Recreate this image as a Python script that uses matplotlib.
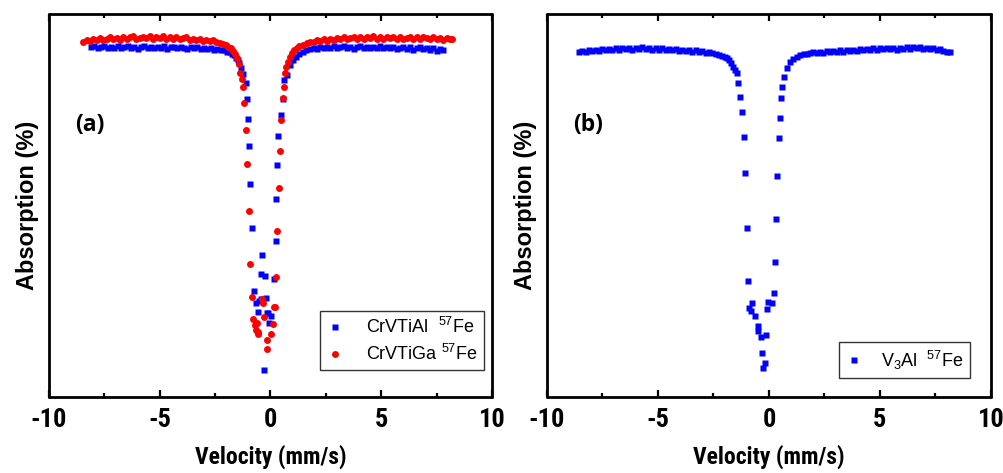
import numpy as np
import matplotlib
matplotlib.use('Agg')
from matplotlib import pyplot as plt
from matplotlib import font_manager
from matplotlib.ticker import MultipleLocator

plt.rcParams['axes.unicode_minus'] = False
plt.rcParams['mathtext.default'] = 'regular'

# ---- data (velocity in mm/s, relative transmission in %) ----
# panel (a): CrVTiAl 57Fe
crvtial_v = [-8.10, -7.95, -7.80, -7.65, -7.50, -7.35, -7.20, -7.05, -6.90, -6.75,
             -6.60, -6.45, -6.30, -6.15, -6.00, -5.85, -5.70, -5.55, -5.40, -5.25,
             -5.10, -4.95, -4.80, -4.65, -4.50, -4.35, -4.20, -4.05, -3.90, -3.75,
             -3.60, -3.45, -3.30, -3.15, -3.00, -2.85, -2.70, -2.55, -2.40, -2.25,
             -2.10, -1.95, -1.85, -1.75, -1.65, -1.55, -1.47, -1.40, -1.32,
             -1.23, -1.12, -1.075, -1.03, -0.98, -0.91, -0.85, -0.73, -0.65, -0.58,
             -0.53, -0.44, -0.41, -0.37, -0.29, -0.25, -0.22, -0.14, -0.10, -0.07,
             0.01, 0.14, 0.23, 0.26, 0.31, 0.35, 0.46, 0.55, 0.61, 0.73, 0.88, 1.02,
             1.15, 1.30, 1.47, 1.62, 1.78, 1.95, 2.10, 2.25, 2.40, 2.55,
             2.70, 2.85, 3.00, 3.15, 3.30, 3.45, 3.60, 3.75, 3.90, 4.05,
             4.20, 4.35, 4.50, 4.65, 4.80, 4.95, 5.10, 5.25, 5.40, 5.55,
             5.70, 5.85, 6.00, 6.15, 6.30, 6.45, 6.60, 6.75, 6.90, 7.05,
             7.20, 7.35, 7.50, 7.65, 7.80]
crvtial_y = [91.3, 91.6, 91.0, 91.4, 91.7, 91.1, 91.5, 91.2, 91.6, 91.0,
             91.4, 91.7, 91.2, 91.5, 90.9, 91.3, 91.6, 91.1, 91.4, 91.0,
             91.5, 91.2, 91.6, 90.9, 91.3, 91.5, 91.0, 91.4, 91.2, 90.8,
             91.3, 91.0, 91.4, 90.9, 91.2, 90.8, 91.1, 90.7, 90.9, 90.5,
             90.6, 90.2, 90.0, 89.6, 89.2, 88.6, 88.0, 87.2, 86.0,
             84.3, 81.9, 77.8, 72.6, 65.5, 55.6, 44.2, 27.8, 24.5, 22.3,
             25.0, 25.5, 32.0, 37.0, 7.0, 31.6, 25.8, 22.0, 22.0, 19.4,
             21.2, 30.7, 40.7, 51.8, 60.6, 68.2, 73.6, 77.9, 82.8, 84.1, 86.7, 88.0,
             88.9, 89.6, 90.2, 90.5, 90.9, 91.2, 90.9, 91.4, 91.1, 91.5,
             91.2, 91.6, 91.0, 91.4, 91.7, 91.2, 91.5, 90.9, 91.3, 91.6,
             91.1, 91.4, 91.0, 91.5, 91.2, 91.6, 91.0, 91.3, 91.1, 91.5,
             90.8, 91.2, 91.4, 90.9, 91.3, 90.7, 91.1, 91.4, 90.8, 91.2,
             90.5, 91.0, 90.4, 90.9, 90.6]

# panel (a): CrVTiGa 57Fe
crvtiga_v = [-8.45, -8.30, -8.15, -8.00, -7.85, -7.70, -7.55, -7.40, -7.25, -7.10,
             -6.95, -6.80, -6.65, -6.50, -6.35, -6.20, -6.05, -5.90, -5.75, -5.60,
             -5.45, -5.30, -5.15, -5.00, -4.85, -4.70, -4.55, -4.40, -4.25, -4.10,
             -3.95, -3.80, -3.65, -3.50, -3.35, -3.20, -3.05, -2.90, -2.75, -2.60,
             -2.45, -2.30, -2.15, -2.00, -1.90, -1.80, -1.70, -1.60, -1.50, -1.44,
             -1.38, -1.30,
             -1.24, -1.18, -1.11, -1.05, -0.98, -0.91, -0.85, -0.78, -0.70, -0.65,
             -0.61, -0.58, -0.55, -0.40, -0.36, -0.30, -0.17, -0.14, 0.01, 0.10,
             0.17, 0.20, 0.23, 0.29, 0.38, 0.43, 0.49, 0.55, 0.60, 0.65,
             0.72, 0.80, 0.88, 0.97, 1.06, 1.18, 1.30, 1.45, 1.63, 1.80,
             1.95, 2.10, 2.25, 2.40, 2.55, 2.70, 2.85, 3.00, 3.15, 3.30,
             3.45, 3.60, 3.75, 3.90, 4.05, 4.20, 4.35, 4.50, 4.65, 4.80,
             4.95, 5.10, 5.25, 5.40, 5.55, 5.70, 5.85, 6.00, 6.15, 6.30,
             6.45, 6.60, 6.75, 6.90, 7.05, 7.20, 7.35, 7.50, 7.65, 7.80,
             7.95, 8.10, 8.20]
crvtiga_y = [92.8, 93.3, 93.0, 93.6, 93.1, 93.8, 93.3, 93.6, 94.0, 93.4,
             93.8, 93.2, 94.0, 93.6, 93.9, 94.2, 93.5, 93.8, 94.1, 93.7,
             94.3, 93.6, 94.0, 93.8, 94.2, 93.5, 93.9, 93.6, 94.0, 93.4,
             93.7, 93.9, 93.3, 93.6, 93.2, 93.5, 93.0, 93.3, 92.9, 93.1,
             92.7, 92.5, 92.2, 91.9, 91.5, 91.0, 90.3, 89.6, 88.6, 86.9,
             84.7, 82.9,
             81.0, 76.7, 69.7, 60.8, 48.6, 34.7, 26.2, 20.3, 18.8, 17.5,
             19.3, 16.4, 17.0, 25.6, 24.6, 21.0, 14.9, 12.5, 16.4, 19.1,
             23.4, 23.6, 31.2, 43.4, 54.6, 64.2, 72.3, 78.0, 81.0, 84.5,
             86.1, 87.5, 88.9, 89.8, 90.5, 91.1, 91.6, 92.0, 92.4, 92.8,
             92.6, 93.1, 92.9, 93.4, 93.0, 93.5, 93.2, 93.7, 93.4, 93.9,
             93.5, 93.8, 94.1, 93.6, 93.9, 93.5, 94.0, 93.7, 94.2, 93.6,
             93.9, 93.5, 94.1, 93.7, 93.9, 93.4, 94.0, 93.6, 93.8, 94.1,
             93.5, 93.9, 93.6, 94.0, 93.7, 93.4, 93.9, 93.5, 93.8, 93.3,
             93.7, 93.4, 93.6]

# panel (b): V3Al 57Fe
v3al_v = [-8.55, -8.40, -8.25, -8.10, -7.95, -7.80, -7.65, -7.50, -7.35, -7.20,
          -7.05, -6.90, -6.75, -6.60, -6.45, -6.30, -6.15, -6.00, -5.85, -5.70,
          -5.55, -5.40, -5.25, -5.10, -4.95, -4.80, -4.65, -4.50, -4.35, -4.20,
          -4.05, -3.90, -3.75, -3.60, -3.45, -3.30, -3.15, -3.00, -2.85, -2.70,
          -2.55, -2.40, -2.25, -2.10, -1.98, -1.89, -1.78, -1.70, -1.62, -1.52,
          -1.44, -1.40, -1.31, -1.22, -1.13, -1.08, -1.00, -0.95, -0.90, -0.81,
          -0.77, -0.64, -0.51, -0.48, -0.37, -0.30, -0.26, -0.18, -0.13, -0.08,
          -0.03, 0.15, 0.21, 0.28, 0.32, 0.37, 0.43, 0.50, 0.55, 0.59,
          0.68, 0.82, 0.95, 1.10, 1.27, 1.42, 1.58, 1.72, 1.86, 2.00,
          2.15, 2.30, 2.45, 2.60, 2.75, 2.90, 3.05, 3.20, 3.35, 3.50,
          3.65, 3.80, 3.95, 4.10, 4.25, 4.40, 4.55, 4.70, 4.85, 5.00,
          5.15, 5.30, 5.45, 5.60, 5.75, 5.90, 6.05, 6.20, 6.35, 6.50,
          6.65, 6.80, 6.95, 7.10, 7.25, 7.40, 7.55, 7.70, 7.85, 8.00,
          8.15]
v3al_y = [90.1, 90.4, 90.2, 90.6, 90.3, 90.7, 90.4, 90.8, 90.5, 90.9,
          90.6, 91.0, 90.6, 91.1, 90.8, 91.2, 90.7, 91.1, 90.8, 91.3,
          90.9, 91.2, 90.7, 91.0, 90.6, 91.1, 90.7, 90.9, 90.5, 90.8,
          90.4, 90.7, 90.3, 90.6, 90.2, 90.5, 90.1, 90.3, 89.9, 90.1,
          89.7, 89.6, 89.3, 89.0, 88.8, 88.5, 87.9, 87.2, 86.2, 85.5,
          84.6, 82.0, 78.3, 74.4, 67.9, 58.5, 44.2, 30.4, 23.2, 22.5,
          24.6, 21.2, 17.3, 18.5, 15.7, 11.4, 7.5, 9.0, 16.2, 22.9,
          24.9, 24.5, 27.2, 35.3, 46.6, 57.7, 67.6, 72.8, 78.1, 80.9,
          83.6, 85.9, 87.5, 88.2, 88.8, 89.2, 89.5, 89.6, 89.8, 90.0,
          89.8, 90.2, 89.9, 90.3, 90.0, 90.4, 90.1, 90.5, 90.2, 90.6,
          90.3, 90.7, 90.4, 90.8, 90.5, 90.9, 90.6, 91.0, 90.7, 91.1,
          90.8, 91.2, 90.8, 91.1, 90.7, 91.2, 90.9, 91.3, 90.9, 91.4,
          91.0, 91.3, 90.9, 91.2, 90.8, 91.1, 90.6, 90.9, 90.4, 90.2,
          90.0]

BLUE = '#0000ff'
RED = '#ff0000'


def pick_font(candidates):
    for name in candidates:
        try:
            font_manager.findfont(font_manager.FontProperties(family=name, weight='bold'),
                                  fallback_to_default=False)
            return name
        except ValueError:
            pass
    return 'DejaVu Sans'


narrow = pick_font(['Liberation Sans Narrow', 'Arial Narrow', 'DejaVu Sans Condensed',
                    'Roboto Condensed', 'Open Sans Condensed', 'Liberation Sans'])
tick_font = dict(family=narrow, weight='bold', size=19)
xlabel_font = dict(family=narrow, weight='bold', size=17)
label_font = dict(family='Liberation Sans', weight='bold', size=17)


def style_axes(ax, panel_label):
    ax.set_xlim(-10, 10)
    ax.set_ylim(0, 100)
    ax.xaxis.set_major_locator(MultipleLocator(5))
    ax.xaxis.set_minor_locator(MultipleLocator(2.5))
    ax.tick_params(axis='x', which='both', direction='in', top=True, bottom=True,
                   width=1.6, pad=8)
    ax.tick_params(axis='x', which='major', length=5)
    ax.tick_params(axis='x', which='minor', length=3)
    ax.tick_params(axis='y', which='both', left=False, labelleft=False)
    ax.set_xticks([-10, -5, 0, 5, 10])
    ax.set_xticklabels(['-10', '-5', '0', '5', '10'], **tick_font)
    for sp in ax.spines.values():
        sp.set_linewidth(2.0)
        sp.set_capstyle('round')
        sp.set_joinstyle('round')
    ax.set_xlabel('Velocity (mm/s)', labelpad=9, **xlabel_font)
    ax.set_ylabel('Absorption (%)', labelpad=7, **label_font)
    ax.text(0.06, 0.71, panel_label, transform=ax.transAxes, fontsize=16.5,
            fontweight='bold', family=['Open Sans', 'DejaVu Sans'], va='center')


fig = plt.figure(figsize=(10.04, 4.73), dpi=100)
ax1 = fig.add_axes([0.0488, 0.1607, 0.4412, 0.8097])
ax2 = fig.add_axes([0.5448, 0.1607, 0.4422, 0.8097])

ax1.plot(crvtial_v, crvtial_y, 's', color=BLUE, ms=4.2, mec='none',
         label='CrVTiAl  $^{57}$Fe')
ax1.plot(crvtiga_v, crvtiga_y, 'o', color=RED, ms=5.0, mec='none',
         label='CrVTiGa $^{57}$Fe')
style_axes(ax1, '(a)')
leg1 = ax1.legend(loc='lower right', bbox_to_anchor=(0.982, 0.07),
                  prop=dict(family='Liberation Sans', size=13),
                  fancybox=False, framealpha=1, edgecolor='#333333',
                  handlelength=1.0, handletextpad=1.2, borderpad=0.35,
                  labelspacing=0.35, borderaxespad=0)
leg1.get_frame().set_linewidth(1.0)

ax2.plot(v3al_v, v3al_y, 's', color=BLUE, ms=4.2, mec='none',
         label='V$_3$Al  $^{57}$Fe')
style_axes(ax2, '(b)')
leg2 = ax2.legend(loc='lower right', bbox_to_anchor=(0.953, 0.05),
                  prop=dict(family='Liberation Sans', size=13),
                  fancybox=False, framealpha=1, edgecolor='#333333',
                  handlelength=1.0, handletextpad=1.0, borderpad=0.35,
                  borderaxespad=0)
leg2.get_frame().set_linewidth(1.0)

fig.savefig('out.png', dpi=100)
